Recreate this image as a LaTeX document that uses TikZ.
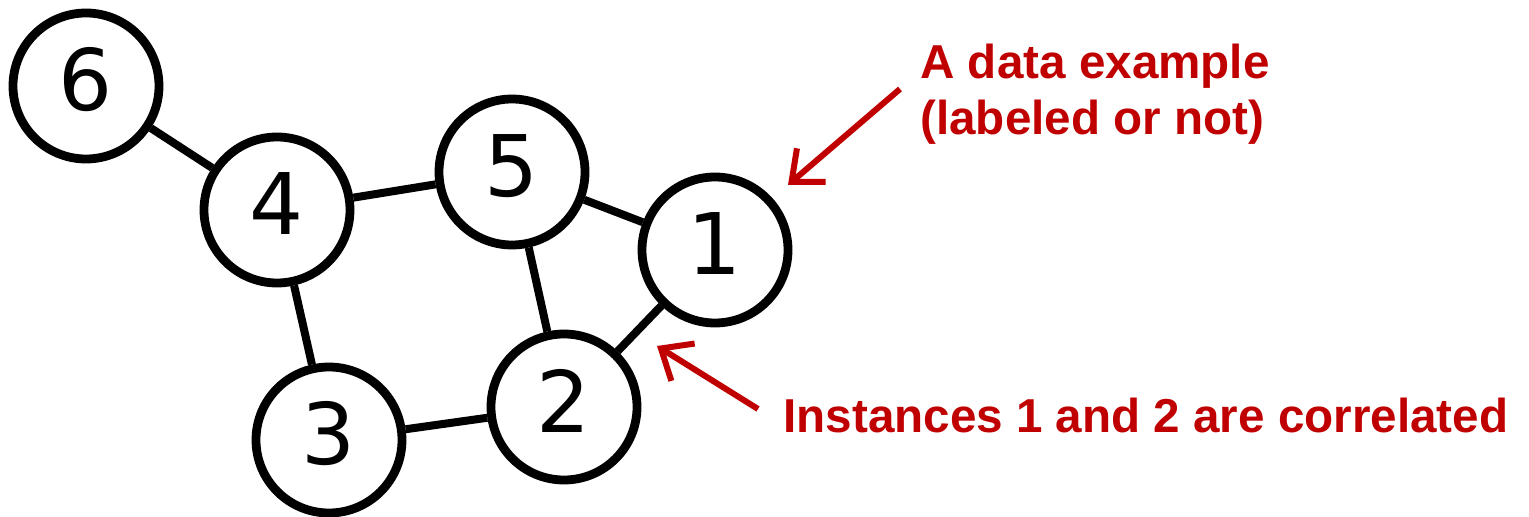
\documentclass[tikz,border=0pt]{standalone}
\usepackage{fontspec}
\setmainfont{Liberation Sans}
\newfontfamily\digitfont{DejaVu Sans}
\usetikzlibrary{arrows.meta}
\definecolor{darkred}{HTML}{C00000}
\begin{document}
\begin{tikzpicture}[x=0.5pt,y=-0.5pt,
  vertex/.style={circle,draw=black,line width=4.4pt,minimum size=73pt,inner sep=0pt,text height=31pt,text depth=6pt,font=\digitfont\fontsize{42.5}{42.5}\selectfont},
  edgeline/.style={line width=4pt,black},
  note/.style={text=darkred,font=\bfseries\fontsize{23.8}{28}\selectfont,inner sep=0pt,anchor=base west},
  pointer/.style={darkred,line width=3pt,-{Straight Barb[length=13pt,width=22pt,line width=3pt]}}]
\useasboundingbox (0,0) rectangle (1529,517);
\node[vertex] (n6) at (86,86) {6};
\node[vertex] (n4) at (277,210) {4};
\node[vertex] (n5) at (512,172) {5};
\node[vertex] (n1) at (715,250) {1};
\node[vertex] (n2) at (564,407) {2};
\node[vertex] (n3) at (329,440) {3};
\draw[edgeline] (n6) -- (n4);
\draw[edgeline] (n4) -- (n5);
\draw[edgeline] (n4) -- (n3);
\draw[edgeline] (n5) -- (n1);
\draw[edgeline] (n5) -- (n2);
\draw[edgeline] (n1) -- (n2);
\draw[edgeline] (n3) -- (n2);
\node[note] (t1) at (920,79) {A data example};
\node[note] (t2) at (920,135) {(labeled or not)};
\node[note] (t3) at (783,433) {Instances 1 and 2 are correlated};
\coordinate (a1s) at (900,89);
\coordinate (a1e) at (788,185);
\coordinate (a2s) at (758,409);
\coordinate (a2e) at (657,346);
\draw[pointer] (a1s) -- (a1e);
\draw[pointer] (a2s) -- (a2e);
\end{tikzpicture}
\end{document}
